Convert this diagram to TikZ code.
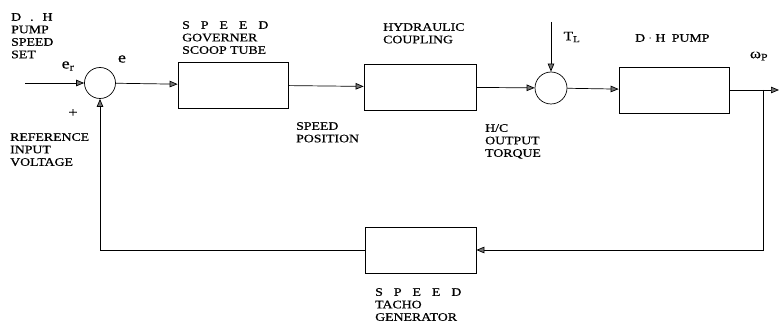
\documentclass[tikz,border=0pt]{standalone}
\usepackage{fontspec}
\setmainfont{Liberation Serif}[FakeStretch=1.2, FakeBold=0.6]
\usetikzlibrary{arrows.meta}

\newcommand{\spd}{S\hspace{11pt}P\hspace{11pt}E\hspace{11pt}E\hspace{11pt}D}

\begin{document}
\begin{tikzpicture}[
    x=1pt, y=-1pt,
    block/.style={draw, rectangle, minimum width=110pt, minimum height=46pt, inner sep=0pt, line width=0.7pt},
    sumj/.style={draw, circle, minimum size=31pt, inner sep=0pt, line width=0.7pt},
    lbl/.style={anchor=north west, inner sep=0pt, align=left, font=\fontsize{11.5}{12.5}\selectfont},
    sym/.style={inner sep=0pt, font=\fontsize{15}{15}\selectfont},
    arrow/.style={-{Triangle[length=8pt, width=6.5pt, fill=black!55]}, line width=0.7pt}
]
    \useasboundingbox (0,0) rectangle (780,323);

    % blocks and junctions
    \node[sumj] (sum1) at (100,83) {};
    \node[block] (gov) at (233,85) {};
    \node[block, minimum width=112pt] (hyd) at (420,87) {};
    \node[sumj, minimum size=32pt] (sum2) at (551,88) {};
    \node[block] (pump) at (674,90) {};
    \node[block, minimum width=111pt] (tacho) at (420.5,250) {};

    \coordinate (in) at (25,83);
    \coordinate (tl) at (551,22);
    \coordinate (br) at (763,90);
    \coordinate (out) at (779,90);

    % labels
    \node[lbl] (setlbl) at (11,13) {D\hspace{9pt}.\hspace{9pt}H\\PUMP\\SPEED\\SET};
    \node[lbl] (reflbl) at (10,133) {REFERENCE\\INPUT\\VOLTAGE};
    \node[lbl] (govlbl) at (182,21) {\spd\\GOVERNER\\SCOOP TUBE};
    \node[lbl] (hydlbl) at (383,23) {HYDRAULIC\\COUPLING};
    \node[lbl] (poslbl) at (296,122) {SPEED\\POSITION};
    \node[lbl] (hclbl) at (485,124) {H/C\\OUTPUT\\TORQUE};
    \node[lbl] (pumplbl) at (635,34) {D $\cdot$ H\hspace{3pt} PUMP};
    \node[lbl] (tacholbl) at (375,288) {\spd\\TACHO\\GENERATOR};

    \node[sym] (erlbl) at (68,66) {e\textsubscript{r}};
    \node[sym] (elbl) at (122,59) {e};
    \node[sym, font=\fontsize{14}{14}\selectfont] (plus) at (73,113) {+};
    \node[sym, font=\fontsize{13}{13}\selectfont] (tllbl) at (572,37) {T\textsubscript{L}};
    \node[sym, font=\fontsize{14}{14}\selectfont] (wplbl) at (759,56) {ω\textsubscript{P}};

    % forward path
    \draw[arrow] (in) -- (sum1);
    \draw[arrow] (sum1) -- (gov);
    \draw[arrow] (gov) -- (hyd);
    \draw[arrow] (hyd) -- (sum2);
    \draw[arrow] (tl) -- (sum2);
    \draw[arrow] (sum2) -- (pump);
    \draw[arrow] (pump) -- (out);

    % feedback path
    \draw[arrow] (br) |- (tacho.east);
    \draw[arrow] (tacho.west) -| (sum1.south);
\end{tikzpicture}
\end{document}
